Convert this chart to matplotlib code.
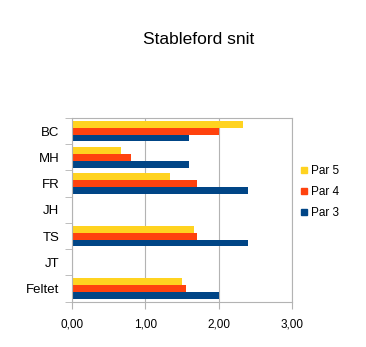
import numpy as np
import matplotlib
matplotlib.use('Agg')
import matplotlib.pyplot as plt
from matplotlib.lines import Line2D
from matplotlib.ticker import FuncFormatter

# data
players = ['BC', 'MH', 'FR', 'JH', 'TS', 'JT', 'Feltet']
par5 = [2.33, 0.67, 1.33, 0, 1.66, 0, 1.50]
par4 = [2.00, 0.80, 1.70, 0, 1.70, 0, 1.55]
par3 = [1.60, 1.60, 2.40, 0, 2.40, 0, 2.00]

series = [('Par 5', par5, '#ffd320'),
          ('Par 4', par4, '#ff420e'),
          ('Par 3', par3, '#004586')]

plt.rcParams['font.family'] = ['Liberation Sans', 'DejaVu Sans']

fig = plt.figure(figsize=(3.66, 3.47), dpi=100)
ax = fig.add_axes([0.1967, 0.1305, 0.601, 0.5295])

y = np.arange(len(players))
h = 0.263
for i, (name, vals, col) in enumerate(series):
    ax.barh(y + (i - 1) * h, vals, height=h, color=col, label=name, zorder=2)

ax.set_xlim(0, 3)
ax.set_ylim(len(players) - 0.5, -0.5)
ax.set_xticks([0, 1, 2, 3])
ax.xaxis.set_major_formatter(FuncFormatter(lambda v, p: f'{v:.2f}'.replace('.', ',')))
ax.set_yticks(y)
ax.set_yticklabels(players, fontsize=9.5)
ax.set_yticks(np.arange(len(players) + 1) - 0.5, minor=True)
ax.tick_params(axis='y', which='major', length=0, pad=9)
ax.tick_params(axis='y', which='minor', length=5, color='#b3b3b3')
ax.tick_params(axis='x', length=5, color='#b3b3b3', labelsize=8.5, pad=7)

ax.grid(axis='x', color='#b3b3b3', linewidth=0.8, zorder=0)
for s in ax.spines.values():
    s.set_color('#b3b3b3')
    s.set_linewidth(0.8)

fig.text(0.543, 0.886, 'Stableford snit', fontsize=12.5, ha='center', va='center')

handles = [Line2D([], [], marker='s', linestyle='none', markersize=4,
                  color=col, label=name) for name, vals, col in series]
fig.legend(handles=handles, loc='center left', bbox_to_anchor=(0.805, 0.447),
           frameon=False, fontsize=8.5, handlelength=0.6, handletextpad=0.3,
           labelspacing=0.75, borderpad=0)

fig.savefig('out.png', dpi=100, facecolor='white')
